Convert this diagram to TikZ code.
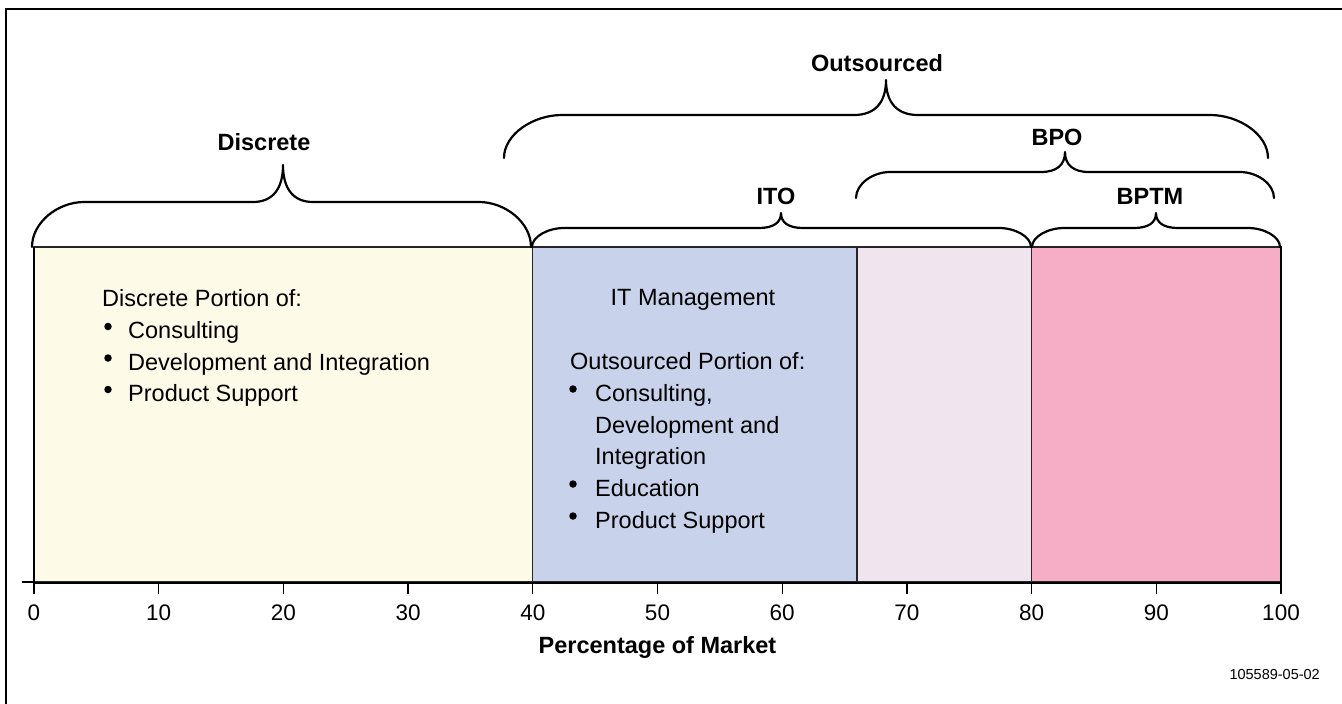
\documentclass[tikz,border=0pt]{standalone}
\usepackage{fontspec}
\setmainfont{Liberation Sans}
\definecolor{cDisc}{HTML}{FEFAE8}
\definecolor{cIT}{HTML}{C8D2EA}
\definecolor{cMid}{HTML}{F0E4EE}
\definecolor{cBPTM}{HTML}{F5AEC6}
% curly brace opening upwards:
% #1 left x, #2 right x, #3 tip x, #4 foot y, #5 flat y, #6 tip y, #7 corner width, #8 tip half-width
\newcommand\curlybrace[8]{%
  \draw[brace] (#1,#4) .. controls (#1,{#5+0.45*(#4-#5)}) and ({#1+0.5*#7},#5) .. ({#1+#7},#5)
    -- ({#3-#8},#5) .. controls ({#3-0.35*#8},#5) and (#3,{#5-0.35*(#5-#6)}) .. (#3,#6)
    .. controls (#3,{#5-0.35*(#5-#6)}) and ({#3+0.35*#8},#5) .. ({#3+#8},#5)
    -- ({#2-#7},#5) .. controls ({#2-0.5*#7},#5) and (#2,{#5+0.45*(#4-#5)}) .. (#2,#4);}
\begin{document}
\begin{tikzpicture}[x=1pt,y=-1pt,
  brace/.style={line width=2.2pt, line cap=round, line join=round},
  lbl/.style={font=\fontsize{23.5}{28}\selectfont\bfseries, anchor=base, inner sep=0pt},
  body/.style={font=\fontsize{23.5}{28}\selectfont, anchor=base west, inner sep=0pt},
  ticklbl/.style={font=\fontsize{22.5}{27}\selectfont, anchor=base, inner sep=0pt},
  dot/.style={circle, fill=black, inner sep=0pt, minimum size=7.5pt},
  bar/.style={draw=black!85, line width=1.1pt}]
\useasboundingbox (0,0) rectangle (1342,704);

% frame
\draw[line width=2pt] (6,704) -- (6,9) -- (1342,9);

% market segments
\path[bar, fill=cDisc] (34,247) rectangle (532.8,582);
\path[bar, fill=cIT] (532.8,247) rectangle (857,582);
\path[bar, fill=cMid] (857,247) rectangle (1031.6,582);
\path[bar, fill=cBPTM] (1031.6,247) rectangle (1281,582);
\draw[line width=1.8pt] (1281,247) -- (1281,582);

% axis
\draw[line width=2.4pt] (34,247) -- (34,583) -- (1281,583);
\draw[line width=1.2pt] (22,582) -- (34,582);
\foreach \v [count=\i] in {0,10,...,100} {
  \draw[line width=1.3pt] ({34+12.47*\v},582) -- ({34+12.47*\v},594);
  \node[ticklbl] (t\i) at ({34+12.47*\v},620) {\v};
}
\node[lbl] (axtitle) at (657.5,653) {Percentage of Market};
\node[font=\fontsize{14.5}{17}\selectfont, anchor=base east, inner sep=0pt] (figid) at (1320,679) {105589-05-02};

% braces
\curlybrace{32}{531}{283}{247}{202}{165}{52}{30}
\curlybrace{532}{1031}{781}{247}{228}{213}{32}{22}
\curlybrace{1032}{1280}{1156}{247}{228}{213}{32}{22}
\curlybrace{856}{1274}{1065}{198}{172}{152}{34}{24}
\curlybrace{504}{1268}{886}{158}{115}{80}{58}{32}

\node[lbl] (lOut) at (877,71.5) {Outsourced};
\node[lbl] (lDisc) at (264,150) {Discrete};
\node[lbl] (lBPO) at (1057,145) {BPO};
\node[lbl] (lITO) at (776,204) {ITO};
\node[lbl] (lBPTM) at (1150,204) {BPTM};

% discrete segment text
\node[body] (dh) at (102,306) {Discrete Portion of:};
\node[dot] (db1) at (108,326.5) {};
\node[body] (d1) at (128,338.5) {Consulting};
\node[dot] (db2) at (108,358) {};
\node[body] (d2) at (128,370) {Development and Integration};
\node[dot] (db3) at (108,389.5) {};
\node[body] (d3) at (128,401.5) {Product Support};

% IT management segment text
\node[body, anchor=base] (itm) at (693,305) {IT Management};
\node[body] (oh) at (570,369) {Outsourced Portion of:};
\node[dot] (ob1) at (573,389) {};
\node[body] (o1) at (595,401) {Consulting,};
\node[body] (o2) at (595,433) {Development and};
\node[body] (o3) at (595,464) {Integration};
\node[dot] (ob4) at (573,484) {};
\node[body] (o4) at (595,496) {Education};
\node[dot] (ob5) at (573,516) {};
\node[body] (o5) at (595,528) {Product Support};
\end{tikzpicture}
\end{document}
